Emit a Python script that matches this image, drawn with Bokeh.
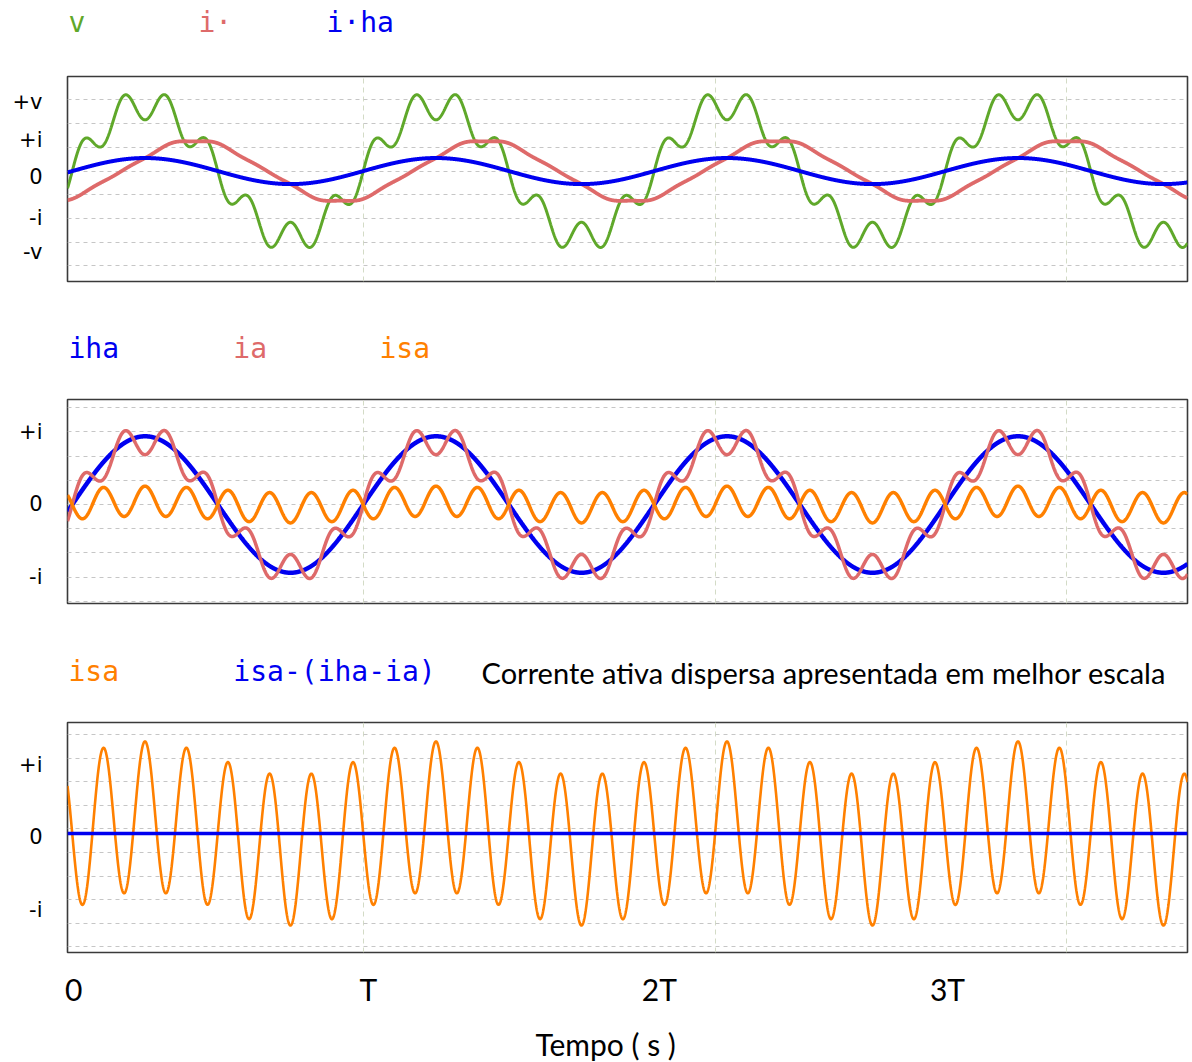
import numpy as np
from bokeh.plotting import figure
from bokeh.layouts import column
from bokeh.models import Range1d, FixedTicker
from bokeh.core.properties import value
from bokeh.embed import file_html
from bokeh.resources import INLINE

# ---------------- data ----------------
# time axis, in periods T
T_SPAN = 3.849
X_TICKS = [0.021, 1.034, 2.034, 3.024]
X_TICK_LABELS = ["0", "T", "2T", "3T"]
X_GRID = [1.017, 2.227, 3.433]

# top panel (units = grid spacing)
V_ORDERS = [1, 7]
V_AMPS = [2.82, 0.66]
V_PHASES = [-6.0, -41.0]
I_ORDERS = [1, 3, 5, 7]
I_AMPS = [1.276, -0.037, -0.034, 0.029]
I_PHASES = [-67.0, -201.0, -335.0, -469.0]
IHA_TOP_ORDERS = [1]
IHA_TOP_AMPS = [0.55]
IHA_TOP_PHASES = [-6.0]
TOP_YTICKS = [2.93, 1.33, -0.27, -2.0, -3.43]
TOP_YLABELS = ["+v", "+i", "0", "-i", "-v"]

# middle panel
IHA_ORDERS = [1]
IHA_AMPS = [2.82]
IHA_PHASES = [-6.0]
IA_ORDERS = [1, 7]
IA_AMPS = [2.68, 0.62]
IA_PHASES = [-6.0, -41.0]
MID_YTICKS = [3.0, 0.04, -3.0]
MID_YLABELS = ["+i", "0", "-i"]

# bottom panel: isa shown with a better scale
ESCALA = 5.13
BOT_YTICKS = [2.88, -0.13, -3.26]
BOT_YLABELS = ["+i", "0", "-i"]

# legend texts
TOP_NAMES = ["v", "i·", "i·ha"]
MID_NAMES = ["iha", "ia", "isa"]
BOT_NAMES = ["isa", "isa-(iha-ia)"]
NOTE = "Corrente ativa dispersa apresentada em melhor escala"
X_TITLE = "Tempo ( s )"

GREEN = "#5fa82a"
RED = "#de6a6a"
BLUE = "#0000f0"
ORANGE = "#ff8000"

t = np.linspace(0, T_SPAN, 4000)


def synth(orders, amps, phases):
    y = np.zeros_like(t)
    for n, a, ph in zip(orders, amps, phases):
        y += a * np.sin(2 * np.pi * n * t + np.radians(ph))
    return y


v = synth(V_ORDERS, V_AMPS, V_PHASES)
i_load = synth(I_ORDERS, I_AMPS, I_PHASES)
iha_top = synth(IHA_TOP_ORDERS, IHA_TOP_AMPS, IHA_TOP_PHASES)
iha = synth(IHA_ORDERS, IHA_AMPS, IHA_PHASES)
ia = synth(IA_ORDERS, IA_AMPS, IA_PHASES)
isa = iha - ia
isa_b = ESCALA * isa
resid = ESCALA * (isa - (iha - ia))

W = 1192
LEFT = 67
RIGHT = 5


def make_fig(height, top, bottom, yr, yticks, ylabels, ygrid):
    p = figure(width=W, height=height, x_range=Range1d(0, T_SPAN),
               y_range=Range1d(*yr), toolbar_location=None, output_backend="svg",
               min_border_left=LEFT, min_border_right=RIGHT,
               min_border_top=top, min_border_bottom=bottom)
    p.outline_line_color = "#3a3a3a"
    p.outline_line_width = 1.6
    p.yaxis.ticker = FixedTicker(ticks=yticks)
    p.yaxis.major_label_overrides = dict(zip(yticks, ylabels))
    p.yaxis.axis_line_color = None
    p.yaxis.major_tick_line_color = None
    p.yaxis.minor_tick_line_color = None
    p.yaxis.major_tick_out = 0
    p.yaxis.major_tick_in = 0
    p.yaxis.major_label_standoff = 25
    p.yaxis.major_label_text_font = "DejaVu Sans"
    p.yaxis.major_label_text_font_size = "21px"
    p.yaxis.major_label_text_color = "black"
    p.ygrid.ticker = FixedTicker(ticks=ygrid)
    p.ygrid.grid_line_color = "#c6c6c6"
    p.ygrid.grid_line_dash = "4 4"
    p.xgrid.ticker = FixedTicker(ticks=X_GRID)
    p.xgrid.grid_line_color = "#d3dbc6"
    p.xgrid.grid_line_dash = "5 4"
    return p


def text_row(height, xs, ys, texts, colors, fonts, sizes):
    r = figure(width=W, height=height, x_range=Range1d(0, T_SPAN),
               y_range=Range1d(0, height), toolbar_location=None,
               output_backend="svg", x_axis_location=None, y_axis_location=None,
               min_border_left=LEFT, min_border_right=RIGHT,
               min_border_top=0, min_border_bottom=0)
    r.outline_line_color = None
    r.grid.visible = False
    for x, y, tx, c, f, s in zip(xs, ys, texts, colors, fonts, sizes):
        r.text(x=[x], y=[y], text=[tx], text_color=c, text_font=value(f),
               text_font_size=s, text_baseline="alphabetic", text_align="left")
    return r


MONO = "DejaVu Sans Mono"

# ---------- top ----------
r1 = text_row(60, [0.0034, 0.45, 0.89], [37.7] * 3, TOP_NAMES,
              [GREEN, RED, BLUE], [MONO] * 3, ["28px"] * 3)
p1 = make_fig(250, 16, 29, (-4.66, 3.99), TOP_YTICKS, TOP_YLABELS,
              [3, 2, 1, 0, -1, -2, -3, -4])
p1.xaxis.visible = False
p1.line(t, v, line_color=GREEN, line_width=3)
p1.line(t, i_load, line_color=RED, line_width=3.8)
p1.line(t, iha_top, line_color=BLUE, line_width=4)

# ---------- middle ----------
r2 = text_row(65, [0.0034, 0.570, 1.072], [26.7] * 3, MID_NAMES,
              [BLUE, RED, ORANGE], [MONO] * 3, ["28px"] * 3)
p2 = make_fig(258, 24, 30, (-4.09, 4.34), MID_YTICKS, MID_YLABELS,
              [4, 3, 2, 1, 0, -1, -2, -3, -4])
p2.xaxis.visible = False
p2.line(t, iha, line_color=BLUE, line_width=4.5)
p2.line(t, ia, line_color=RED, line_width=3.5)
p2.line(t, isa, line_color=ORANGE, line_width=3.5)

# ---------- bottom ----------
r3 = text_row(67, [0.0034, 0.570, 1.423], [29.3, 29.3, 28.0],
              BOT_NAMES + [NOTE], [ORANGE, BLUE, "black"],
              [MONO, MONO, "Lato"], ["28px", "28px", "29px"])
bot_grid = [4.195 - k for k in range(10)]
p3 = make_fig(312, 22, 60, (-5.04, 4.70), BOT_YTICKS, BOT_YLABELS, bot_grid)
p3.line(t, isa_b, line_color=ORANGE, line_width=2.6)
p3.line(t, resid, line_color=BLUE, line_width=3.5)

xa = p3.xaxis[0]
xa.ticker = FixedTicker(ticks=X_TICKS)
xa.major_label_overrides = dict(zip(X_TICKS, X_TICK_LABELS))
xa.axis_line_color = None
xa.major_tick_line_color = None
xa.minor_tick_line_color = None
xa.major_tick_out = 0
xa.major_tick_in = 0
xa.major_label_standoff = 18
xa.major_label_text_font = "Lato"
xa.major_label_text_font_size = "30px"
xa.major_label_text_color = "black"

# x-axis title row
r4 = text_row(50, [1.608], [19.0], [X_TITLE], ["black"], ["Lato"], ["30px"])

layout = column(r1, p1, r2, p2, r3, p3, r4, spacing=0)
open("out.html", "w").write(file_html(layout, INLINE))
